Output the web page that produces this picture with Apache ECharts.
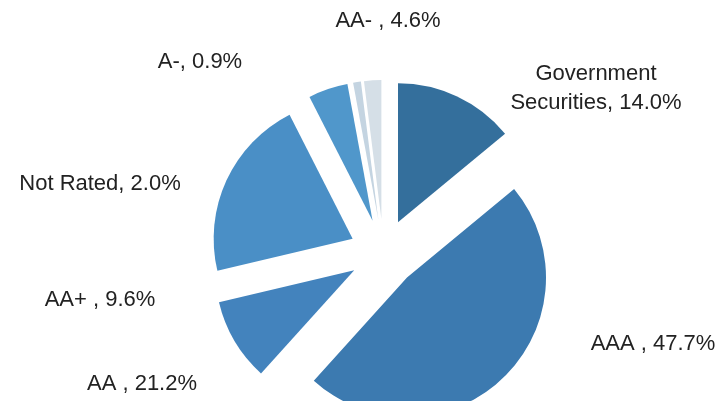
<!DOCTYPE html>
<html>
<head>
    <meta charset="utf-8">
    <title>ECharts</title>
    <script src="https://cdn.jsdelivr.net/npm/echarts@6/dist/echarts.min.js"></script>
</head>
<body style="margin:0;background:#fff;">
<div id="main" style="width: 722px;height:401px;"></div>
<script type="text/javascript">
    // slices go clockwise from 12 o'clock
    var names = ['Government\nSecurities', 'AAA ', 'AA+ ', 'AA ', 'AA- ', 'A-', 'Not Rated'];
    var shares = [14.0, 47.7, 9.6, 21.2, 4.6, 0.9, 2.0];

    var colors = ['#346f9c', '#3c7ab0', '#4383bd', '#4a8fc6', '#5097cb', '#c4d4e1', '#d5dfe7'];
    // label centres, the labels were dragged by hand in the original
    var labelPos = [[596, 88], [653, 344], [100, 300], [142, 384], [388, 21], [200, 62], [100, 184]];

    var data = [];
    var texts = [];
    for (var i = 0; i < names.length; i++) {
        data.push({
            name: names[i],
            value: shares[i],
            selected: true,
            itemStyle: {color: colors[i]}
        });
        texts.push({
            type: 'text',
            x: labelPos[i][0],
            y: labelPos[i][1],
            style: {
                text: names[i] + ', ' + shares[i].toFixed(1) + '%',
                fontFamily: 'Liberation Sans',
                fontSize: 22,
                lineHeight: 29,
                fill: '#222',
                align: 'center',
                verticalAlign: 'middle'
            }
        });
    }

    var chart = echarts.init(document.getElementById('main'));
    chart.setOption({
        animation: false,
        graphic: texts,
        series: [{
            type: 'pie',
            center: [383.5, 253],
            radius: 139,
            startAngle: 90,
            clockwise: true,
            selectedMode: 'multiple',
            selectedOffset: 34,
            emphasis: {disabled: true},
            label: {show: false},
            labelLine: {show: false},
            data: data
        }]
    });
</script>
</body>
</html>
